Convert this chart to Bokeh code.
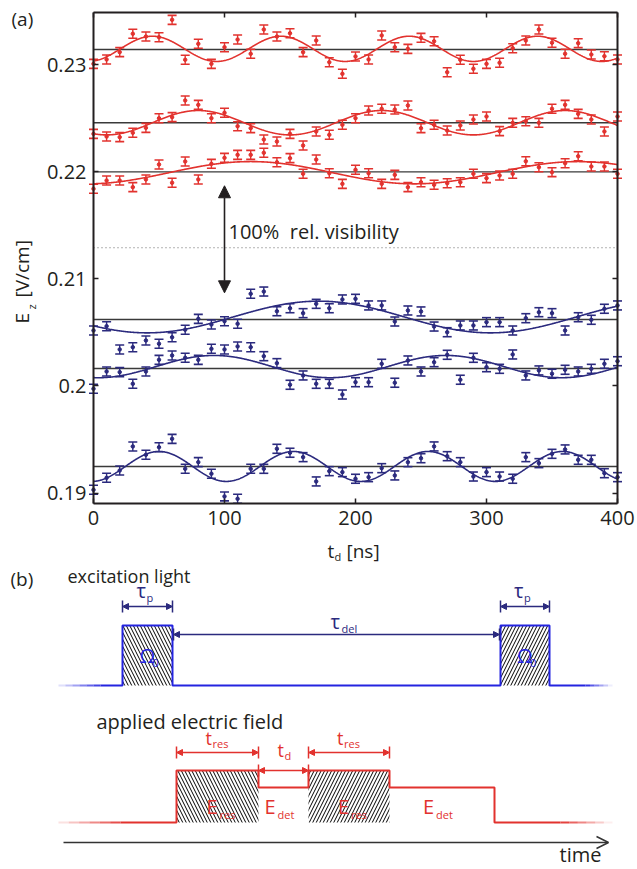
import numpy as np
from bokeh.plotting import figure
from bokeh.models import (Range1d, FixedTicker, LinearAxis, Label, Arrow,
                          NormalHead, OpenHead, ColumnDataSource)
from bokeh.embed import file_html
from bokeh.resources import INLINE

FONT = "Open Sans"
INK = "#231f20"
RED = "#e2322e"
NAVY = "#2b2a7e"
BLUE = "#2424e0"

# ---------------- data, panel (a) ----------------
t_ns = list(range(0, 401, 10))

red_top = [0.23009, 0.23050, 0.23118, 0.23290, 0.23264, 0.23258, 0.23420, 0.23047, 0.23196, 0.23009,
           0.23164, 0.23236, 0.23103, 0.23330, 0.23264, 0.23295, 0.23118, 0.23227, 0.23024, 0.22916,
           0.23078, 0.23050, 0.23274, 0.23164, 0.23149, 0.23252, 0.23220, 0.22931, 0.23047, 0.22963,
           0.23009, 0.23019, 0.23155, 0.23227, 0.23330, 0.23206, 0.23103, 0.23202, 0.23096, 0.23080,
           0.23050]
red_mid = [0.22355, 0.22330, 0.22324, 0.22365, 0.22411, 0.22501, 0.22511, 0.22667, 0.22626, 0.22501,
           0.22552, 0.22426, 0.22408, 0.22302, 0.22283, 0.22355, 0.22246, 0.22377, 0.22346, 0.22440,
           0.22501, 0.22573, 0.22589, 0.22582, 0.22620, 0.22408, 0.22440, 0.22386, 0.22433, 0.22489,
           0.22517, 0.22380, 0.22458, 0.22473, 0.22458, 0.22589, 0.22626, 0.22542, 0.22489, 0.22377,
           0.22517]
red_low = [0.21842, 0.21919, 0.21919, 0.21857, 0.21929, 0.22069, 0.21898, 0.22097, 0.21929, 0.22075,
           0.22131, 0.22159, 0.22159, 0.22178, 0.22090, 0.22128, 0.21982, 0.22115, 0.21987, 0.21888,
           0.22019, 0.21987, 0.21888, 0.21972, 0.21857, 0.21903, 0.21879, 0.21894, 0.21903, 0.21982,
           0.21941, 0.21966, 0.21982, 0.22099, 0.22043, 0.21997, 0.22081, 0.22146, 0.22050, 0.22050,
           0.21982]
blue_up = [0.20518, 0.20558, 0.20341, 0.20362, 0.20425, 0.20394, 0.20455, 0.20525, 0.20627, 0.20574,
           0.20605, 0.20581, 0.20861, 0.20882, 0.20698, 0.20726, 0.20680, 0.20767, 0.20726, 0.20808,
           0.20814, 0.20752, 0.20752, 0.20602, 0.20705, 0.20696, 0.20555, 0.20502, 0.20565, 0.20565,
           0.20596, 0.20596, 0.20518, 0.20633, 0.20689, 0.20680, 0.20518, 0.20642, 0.20618, 0.20721,
           0.20752]
blue_mid = [0.19974, 0.20135, 0.20129, 0.20020, 0.20135, 0.20244, 0.20285, 0.20263, 0.20244, 0.20347,
            0.20341, 0.20369, 0.20362, 0.20278, 0.20213, 0.20011, 0.20098, 0.20020, 0.20020, 0.19920,
            0.20035, 0.20035, 0.20207, 0.20030, 0.20238, 0.20135, 0.20222, 0.20291, 0.20058, 0.20263,
            0.20175, 0.20160, 0.20294, 0.20098, 0.20145, 0.20114, 0.20151, 0.20135, 0.20160, 0.20207,
            0.20231]
blue_low = [0.19030, 0.19142, 0.19210, 0.19435, 0.19357, 0.19428, 0.19506, 0.19226, 0.19288, 0.19180,
            0.18968, 0.18946, 0.19226, 0.19226, 0.19413, 0.19376, 0.19335, 0.19108, 0.19204, 0.19195,
            0.19133, 0.19148, 0.19232, 0.19164, 0.19288, 0.19325, 0.19435, 0.19344, 0.19288, 0.19154,
            0.19195, 0.19154, 0.19133, 0.19335, 0.19279, 0.19366, 0.19407, 0.19310, 0.19310, 0.19185,
            0.19148]
err_half = 0.00042

mean_levels = [0.23143, 0.22458, 0.22000, 0.20621, 0.20163, 0.19248]
# sinusoidal fits: offset, amplitude, period [ns], time of maximum [ns]
fit_offset = [0.23149, 0.22459, 0.21992, 0.20644, 0.20181, 0.19248]
fit_amp = [0.00118, 0.00114, 0.00104, 0.00148, 0.00104, 0.00140]
fit_period = [98.0, 140.0, 250.0, 262.0, 177.0, 102.7]
fit_tmax = [45.0, 80.0, 120.0, 172.0, 92.0, 50.0]

visibility_level = 0.21291
vis_arrow_t = 100
vis_arrow_top = 0.2187
vis_arrow_bottom = 0.2087

x_ticks = [0, 100, 200, 300, 400]
y_ticks = [0.19, 0.2, 0.21, 0.22, 0.23]
y_tick_labels = ["0.19", "0.2", "0.21", "0.22", "0.23"]
X_LO, X_HI = 0, 400
Y_LO, Y_HI = 0.189019, 0.234886

# ---------------- page geometry ----------------
W, H = 637, 869
AX_LEFT_PX, PX_PER_NS = 93.0, 1.31          # x=0 ns sits 93 px from the left
REF_Y_PX, PX_PER_UNIT = 64.3, 10705.0       # 0.23 V/cm sits 64.3 px from the top
x_start = -AX_LEFT_PX / PX_PER_NS
x_end = (W - AX_LEFT_PX) / PX_PER_NS
y_end = 0.23 + REF_Y_PX / PX_PER_UNIT
y_start = 0.23 - (H - REF_Y_PX) / PX_PER_UNIT

p = figure(width=W, height=H, x_range=Range1d(x_start, x_end), y_range=Range1d(y_start, y_end),
           min_border=0, toolbar_location=None, output_backend="svg",
           x_axis_location=None, y_axis_location=None)
p.extra_x_ranges = {"px": Range1d(0, W)}
p.extra_y_ranges = {"py": Range1d(H, 0)}
p.xgrid.visible = False
p.ygrid.visible = False
p.outline_line_color = None


def style_axis(ax, show_labels):
    ax.axis_line_color = INK
    ax.axis_line_width = 2
    ax.major_tick_line_color = INK
    ax.major_tick_line_width = 1.5
    ax.major_tick_in = 5
    ax.major_tick_out = 0
    ax.minor_tick_line_color = None
    ax.major_label_text_font = FONT
    ax.major_label_text_color = INK
    if show_labels:
        ax.major_label_text_font_size = "20px"
        ax.major_label_standoff = 7
    else:
        ax.major_label_text_font_size = "0px"
        ax.major_label_standoff = 0


ax_b = LinearAxis(ticker=FixedTicker(ticks=x_ticks), fixed_location=Y_LO, bounds=(X_LO, X_HI))
style_axis(ax_b, True)
p.add_layout(ax_b, "below")
ax_l = LinearAxis(ticker=FixedTicker(ticks=y_ticks), fixed_location=X_LO, bounds=(Y_LO, Y_HI),
                  major_label_overrides={v: s for v, s in zip(y_ticks, y_tick_labels)})
style_axis(ax_l, True)
p.add_layout(ax_l, "left")
ax_t = LinearAxis(ticker=FixedTicker(ticks=x_ticks), fixed_location=Y_HI, bounds=(X_LO, X_HI),
                  major_label_overrides={v: "" for v in x_ticks})
style_axis(ax_t, False)
p.add_layout(ax_t, "above")
ax_r = LinearAxis(ticker=FixedTicker(ticks=y_ticks), fixed_location=X_HI, bounds=(Y_LO, Y_HI),
                  major_label_overrides={v: "" for v in y_ticks})
style_axis(ax_r, False)
p.add_layout(ax_r, "right")

for lvl in mean_levels:
    p.line([X_LO, X_HI], [lvl, lvl], line_color="#3a3a3a", line_width=1.4)

p.line([X_LO, X_HI], [visibility_level, visibility_level],
       line_color="#666666", line_width=1, line_dash="1 3")

series = [red_top, red_mid, red_low, blue_up, blue_mid, blue_low]
colors = [RED, RED, RED, NAVY, NAVY, NAVY]

t_fine = np.linspace(X_LO, X_HI, 801)
for i, col in enumerate(colors):
    fit = fit_offset[i] + fit_amp[i] * np.cos(2 * np.pi * (t_fine - fit_tmax[i]) / fit_period[i])
    p.line(t_fine, fit, line_color=col, line_width=1.6)

for vals, col in zip(series, colors):
    v = np.array(vals)
    src = ColumnDataSource(dict(x=t_ns, y=v, lo=v - err_half, hi=v + err_half))
    p.segment(x0="x", y0="lo", x1="x", y1="hi", source=src, line_color=col, line_width=1.4)
    p.scatter("x", "hi", source=src, marker="dash", size=9, line_color=col, line_width=1.6)
    p.scatter("x", "lo", source=src, marker="dash", size=9, line_color=col, line_width=1.6)
    p.scatter("x", "y", source=src, marker="circle", size=3.5, line_color=col, fill_color=col)

p.add_layout(Arrow(start=NormalHead(size=12, fill_color=INK, line_color=INK),
                   end=NormalHead(size=12, fill_color=INK, line_color=INK),
                   x_start=vis_arrow_t, y_start=vis_arrow_bottom,
                   x_end=vis_arrow_t, y_end=vis_arrow_top,
                   line_color=INK, line_width=1.6))


def tb(x, y, s, size=18, color=INK, align="left", angle=0.0):
    """text placed in page-pixel coordinates"""
    p.add_layout(Label(x=x, y=y, text=s, text_font=FONT, text_font_size=f"{size}px",
                       text_color=color, text_align=align, text_baseline="middle",
                       angle=angle, x_range_name="px", y_range_name="py"))


tb(228, 231, "100%\u00a0 rel. visibility", size=20)
tb(11, 18, "(a)", size=19)
tb(21, 323, "E", size=19, angle=np.pi / 2)
tb(31, 309, "z", size=11, angle=np.pi / 2)
tb(21, 297, "[V/cm]", size=19, angle=np.pi / 2)
tb(327, 550, "t", size=19)
tb(334, 556, "d", size=11)
tb(346, 550, "[ns]", size=19)

# ---------------- panel (b): timing schematic (page pixel coordinates) ----------------
exc_base, exc_high = 685, 625
exc_pulses = [(122, 172), (500, 549)]
exc_span = (100, 585)
fld_base, fld_high, fld_det = 822, 770, 787
fld_res = [(176, 258), (308, 389)]
fld_det_seg = [(258, 308), (389, 494)]
fld_span = (120, 560)
fade_left, fade_right = 58, 612
time_axis = (63, 608, 842)
PXR = dict(x_range_name="px", y_range_name="py")


def faded(x0, x1, y, col, reverse=False, steps=6):
    xs = np.linspace(x0, x1, steps + 1)
    for k in range(steps):
        a = (k + 1) / (steps + 1)
        if reverse:
            a = 1 - (k + 0.5) / steps
        p.line([xs[k], xs[k + 1]], [y, y], line_color=col, line_alpha=a, line_width=2, **PXR)


hatch = dict(fill_color=None, line_color=None, hatch_color="black", hatch_weight=1,
             hatch_scale=7, **PXR)

# excitation light
ex_x = [exc_span[0]]
ex_y = [exc_base]
for a, b in exc_pulses:
    ex_x += [a, a, b, b]
    ex_y += [exc_base, exc_high, exc_high, exc_base]
ex_x.append(exc_span[1])
ex_y.append(exc_base)
p.quad(left=[exc_pulses[0][0]], right=[exc_pulses[0][1]], top=[exc_high], bottom=[exc_base],
       hatch_pattern="left_diagonal_line", **hatch)
p.quad(left=[exc_pulses[1][0]], right=[exc_pulses[1][1]], top=[exc_high], bottom=[exc_base],
       hatch_pattern="right_diagonal_line", **hatch)
p.line(ex_x, ex_y, line_color=BLUE, line_width=2, **PXR)
faded(fade_left, exc_span[0], exc_base, BLUE)
faded(exc_span[1], fade_right, exc_base, BLUE, reverse=True)

# electric field
fx = [fld_span[0], fld_res[0][0], fld_res[0][0], fld_res[0][1], fld_det_seg[0][0],
      fld_det_seg[0][1], fld_res[1][0], fld_res[1][1], fld_det_seg[1][0], fld_det_seg[1][1],
      fld_det_seg[1][1], fld_span[1]]
fy = [fld_base, fld_base, fld_high, fld_high, fld_det, fld_det, fld_high, fld_high,
      fld_det, fld_det, fld_base, fld_base]
p.quad(left=[fld_res[0][0]], right=[fld_res[0][1]], top=[fld_high], bottom=[fld_base],
       hatch_pattern="left_diagonal_line", **hatch)
p.quad(left=[fld_res[1][0]], right=[fld_res[1][1]], top=[fld_high], bottom=[fld_base],
       hatch_pattern="right_diagonal_line", **hatch)
p.line(fx, fy, line_color=RED, line_width=2, **PXR)
faded(fade_left, fld_span[0], fld_base, RED)
faded(fld_span[1], fade_right, fld_base, RED, reverse=True)


def dim_arrow(x0, x1, y, col, tick=6):
    p.add_layout(Arrow(start=NormalHead(size=6, fill_color=col, line_color=col, line_width=1),
                       end=NormalHead(size=6, fill_color=col, line_color=col, line_width=1),
                       x_start=x0, y_start=y, x_end=x1, y_end=y,
                       line_color=col, line_width=1.5, **PXR))
    p.segment(x0=[x0, x1], y0=[y - tick, y - tick], x1=[x0, x1], y1=[y + tick, y + tick],
              line_color=col, line_width=1.5, **PXR)


tau_p_y, tau_del_y = 606, 634
for a, b in exc_pulses:
    dim_arrow(a, b, tau_p_y, NAVY)
dim_arrow(exc_pulses[0][1] + 1, exc_pulses[1][0] - 1, tau_del_y, NAVY)
t_res_y = 752
for a, b in fld_res:
    dim_arrow(a, b, t_res_y, RED)
dim_arrow(fld_det_seg[0][0], fld_det_seg[0][1], fld_high, RED)

p.add_layout(Arrow(end=OpenHead(size=12, line_color="#333333", line_width=1.5),
                   x_start=time_axis[0], y_start=time_axis[2],
                   x_end=time_axis[1], y_end=time_axis[2],
                   line_color="#333333", line_width=1.5, **PXR))

tb(10, 578, "(b)", size=19)
tb(67, 575, "excitation light")
tb(96, 721, "applied electric field", size=20)
tb(601, 854, "time", size=20, align="right")

for a, b in exc_pulses:
    c = (a + b) / 2
    tb(c - 11, 590, "τ", size=20, color=NAVY)
    tb(c - 1, 597, "p", size=11, color=NAVY)
    tb(c - 8, 655, "Ω", size=20, color=BLUE)
    tb(c + 5, 662, "0", size=11, color=BLUE)
tb(330, 621, "τ", size=20, color=NAVY)
tb(341, 628, "del", size=11, color=NAVY)

for a, b in fld_res:
    c = (a + b) / 2
    tb(c - 12, 737, "t", color=RED)
    tb(c - 5, 743, "res", size=11, color=RED)
    tb(c - 11, 806, "E", size=20, color=RED)
    tb(c + 2, 814, "res", size=11, color=RED)
c = (fld_det_seg[0][0] + fld_det_seg[0][1]) / 2
tb(c - 6, 749, "t", color=RED)
tb(c + 1, 755, "d", size=11, color=RED)
for a, b in fld_det_seg:
    c = (a + b) / 2
    tb(c - 19, 806, "E", size=20, color=RED)
    tb(c - 6, 814, "det", size=11, color=RED)

with open("out.html", "w") as f:
    f.write(file_html(p, INLINE))
